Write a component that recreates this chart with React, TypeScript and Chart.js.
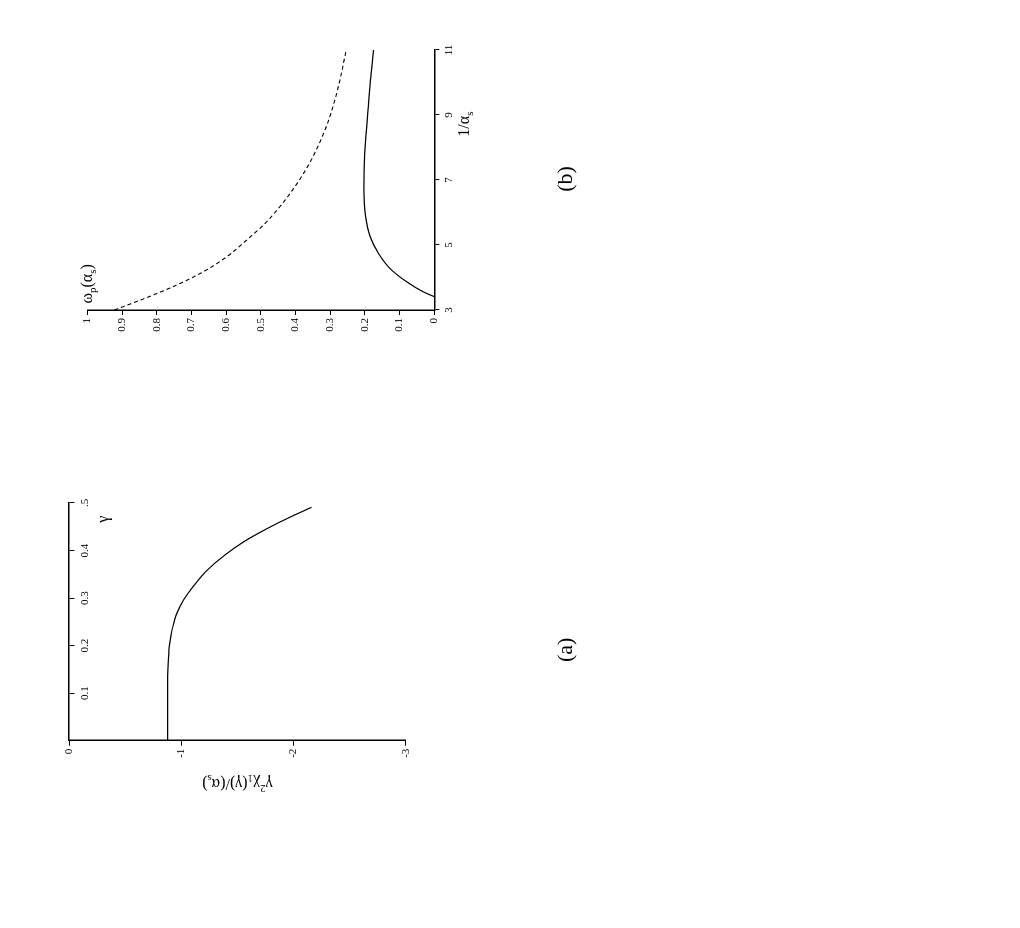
import React, { useEffect, useRef } from 'react';
import { Chart, registerables } from 'chart.js';

Chart.register(...registerables);

const FONT = '"Liberation Serif", "Times New Roman", "DejaVu Serif", serif';

// ---------- Panel (a) data ----------
const gammaA = [0, 0.05, 0.1, 0.135, 0.16, 0.191, 0.21, 0.233, 0.25, 0.268, 0.296, 0.324, 0.355, 0.391, 0.419, 0.445, 0.47, 0.491];
const chiA = [-0.878, -0.878, -0.878, -0.879, -0.882, -0.89, -0.9, -0.917, -0.936, -0.961, -1.02, -1.105, -1.215, -1.39, -1.56, -1.755, -1.965, -2.16];
const gammaTicks = [0.1, 0.2, 0.3, 0.4, 0.5];
const gammaTickLabels = ['0.1', '0.2', '0.3', '0.4', '.5'];
const chiTicks = [0, -1, -2, -3];
const chiTickLabels = ['0', '-1', '-2', '-3'];

// ---------- Panel (b) data ----------
const invAlphaSolid = [3.41, 3.56, 3.87, 4.28, 4.74, 5.26, 5.87, 6.69, 7.31, 8.23, 9.26, 10.18, 11];
const omegaSolid = [0, 0.032, 0.08, 0.128, 0.161, 0.185, 0.198, 0.203, 0.202, 0.198, 0.19, 0.183, 0.175];
const invAlphaDashed = [3, 3.41, 3.77, 4.18, 4.64, 5.15, 5.51, 5.67, 6.18, 6.9, 7.51, 8.23, 9.05, 10.08, 11];
const omegaDashed = [0.922, 0.822, 0.742, 0.665, 0.598, 0.541, 0.503, 0.487, 0.445, 0.395, 0.36, 0.327, 0.298, 0.272, 0.254];
const invAlphaTicks = [3, 5, 7, 9, 11];
const invAlphaTickLabels = ['3', '5', '7', '9', '11'];
const omegaTicks = [0, 0.1, 0.2, 0.3, 0.4, 0.5, 0.6, 0.7, 0.8, 0.9, 1];
const omegaTickLabels = ['0', '0.1', '0.2', '0.3', '0.4', '0.5', '0.6', '0.7', '0.8', '0.9', '1'];

// ---------- text labels ----------
type Part = { t: string; sub?: boolean; sup?: boolean };
const labelGamma: Part[] = [{ t: 'γ' }];
const labelChi: Part[] = [{ t: 'γ' }, { t: '2', sup: true }, { t: 'χ' }, { t: '1', sub: true }, { t: '(γ)/(α' }, { t: 's', sub: true }, { t: ')' }];
const labelOmega: Part[] = [{ t: 'ω' }, { t: 'p', sub: true }, { t: '(α' }, { t: 's', sub: true }, { t: ')' }];
const labelInvAlpha: Part[] = [{ t: '1/α' }, { t: 's', sub: true }];
const labelA: Part[] = [{ t: '(a)' }];
const labelB: Part[] = [{ t: '(b)' }];

type Item = { parts: Part[]; x: number; y: number; size: number; align: 'left' | 'center' | 'right'; rotate?: number };

function drawRich(ctx: CanvasRenderingContext2D, it: Item, px: number, py: number) {
  const main = `${it.size}px ${FONT}`;
  const smallSize = Math.round(it.size * 0.7);
  const small = `${smallSize}px ${FONT}`;
  ctx.save();
  ctx.translate(px, py);
  if (it.rotate) ctx.rotate(it.rotate);
  ctx.fillStyle = '#000';
  ctx.textAlign = 'left';
  ctx.textBaseline = 'alphabetic';
  let total = 0;
  const widths = it.parts.map((p) => {
    ctx.font = p.sub || p.sup ? small : main;
    const w = ctx.measureText(p.t).width;
    total += w;
    return w;
  });
  let cx = it.align === 'center' ? -total / 2 : it.align === 'right' ? -total : 0;
  const base = it.size * 0.32;
  it.parts.forEach((p, i) => {
    ctx.font = p.sub || p.sup ? small : main;
    const dy = p.sub ? it.size * 0.25 : p.sup ? -it.size * 0.38 : 0;
    ctx.fillText(p.t, cx, base + dy);
    cx += widths[i];
  });
  ctx.restore();
}

const richLabelPlugin = {
  id: 'richLabels',
  afterDraw(chart: any, _args: any, opts: any) {
    const items: Item[] = (opts && opts.items) || [];
    const { ctx, scales } = chart;
    items.forEach((it) => {
      const px = scales.x.getPixelForValue(it.x);
      const py = scales.y.getPixelForValue(it.y);
      drawRich(ctx, it, px, py);
    });
  },
};

const tickFont = { family: FONT, size: 11 };

function axis(opts: any) {
  return {
    type: 'linear',
    grid: { drawOnChartArea: false, drawTicks: true, tickLength: 5, color: '#000', lineWidth: 1 },
    border: { display: true, color: '#000', width: 1.5 },
    ticks: { color: '#000', font: tickFont, maxRotation: 0, autoSkip: false, padding: 3 },
    ...opts,
  };
}

function makeTicks(values: number[]) {
  return (s: any) => {
    s.ticks = values.map((value) => ({ value }));
  };
}

export default function App() {
  const refA = useRef<HTMLCanvasElement | null>(null);
  const refB = useRef<HTMLCanvasElement | null>(null);

  useEffect(() => {
    if (!refA.current || !refB.current) return;

    const chartA = new Chart(refA.current, {
      type: 'scatter',
      data: {
        datasets: [
          {
            data: gammaA.map((g, i) => ({ x: g, y: chiA[i] })),
            showLine: true,
            borderColor: '#000',
            borderWidth: 1.2,
            pointRadius: 0,
            fill: false,
            cubicInterpolationMode: 'monotone',
          } as any,
        ],
      },
      options: {
        animation: false,
        responsive: false,
        devicePixelRatio: 1,
        events: [],
        layout: { padding: { left: 0, top: 49, right: 35, bottom: 214.1 } },
        plugins: {
          legend: { display: false },
          tooltip: { enabled: false },
          richLabels: {
            items: [
              { parts: labelGamma, x: 0.466, y: -0.3, size: 16, align: 'center' },
              { parts: labelChi, x: -0.091, y: -1.5, size: 16, align: 'center', rotate: -Math.PI / 2 },
              { parts: labelA, x: 0.191, y: -4.417, size: 22, align: 'center' },
            ],
          },
        } as any,
        scales: {
          x: axis({
            min: 0,
            max: 0.5,
            position: { y: 0 },
            ticks: { color: '#000', font: tickFont, maxRotation: 0, autoSkip: false, padding: 5, callback: (_v: any, i: number) => gammaTickLabels[i] },
            afterBuildTicks: makeTicks(gammaTicks),
          }),
          y: axis({
            min: -3,
            max: 0,
            position: 'left',
            ticks: { color: '#000', font: tickFont, maxRotation: 0, autoSkip: false, padding: 3, callback: (_v: any, i: number) => chiTickLabels[i] },
            afterBuildTicks: makeTicks(chiTicks),
            afterFit: (s: any) => {
              s.width = 127.3;
            },
          }),
        } as any,
      },
      plugins: [richLabelPlugin],
    });

    const chartB = new Chart(refB.current, {
      type: 'scatter',
      data: {
        datasets: [
          {
            data: invAlphaSolid.map((v, i) => ({ x: v, y: omegaSolid[i] })),
            showLine: true,
            borderColor: '#000',
            borderWidth: 1.2,
            pointRadius: 0,
            fill: false,
            cubicInterpolationMode: 'monotone',
          } as any,
          {
            data: invAlphaDashed.map((v, i) => ({ x: v, y: omegaDashed[i] })),
            showLine: true,
            borderColor: '#000',
            borderWidth: 1.1,
            borderDash: [4, 3],
            pointRadius: 0,
            fill: false,
            cubicInterpolationMode: 'monotone',
          } as any,
        ],
      },
      options: {
        animation: false,
        responsive: false,
        devicePixelRatio: 1,
        events: [],
        layout: { padding: { left: 0, top: 67.3, right: 42, bottom: 0 } },
        plugins: {
          legend: { display: false },
          tooltip: { enabled: false },
          richLabels: {
            items: [
              { parts: labelOmega, x: 3.2, y: 1.0, size: 16, align: 'left' },
              { parts: labelInvAlpha, x: 8.72, y: -0.086, size: 16, align: 'center' },
              { parts: labelB, x: 7.03, y: -0.377, size: 22, align: 'center' },
            ],
          },
        } as any,
        scales: {
          x: axis({
            min: 3,
            max: 11,
            position: 'bottom',
            ticks: { color: '#000', font: tickFont, maxRotation: 0, autoSkip: false, padding: 3, callback: (_v: any, i: number) => invAlphaTickLabels[i] },
            afterBuildTicks: makeTicks(invAlphaTicks),
            afterFit: (s: any) => {
              s.height = 185.7;
            },
          }),
          y: axis({
            min: 0,
            max: 1,
            position: 'left',
            ticks: { color: '#000', font: tickFont, maxRotation: 0, autoSkip: false, padding: 3, callback: (_v: any, i: number) => omegaTickLabels[i] },
            afterBuildTicks: makeTicks(omegaTicks),
            afterFit: (s: any) => {
              s.width = 98;
            },
          }),
        } as any,
      },
      plugins: [richLabelPlugin],
    });

    return () => {
      chartA.destroy();
      chartB.destroy();
    };
  }, []);

  return (
    <div
      style={{
        position: 'fixed',
        left: 0,
        top: 0,
        width: 928,
        height: 1020,
        transformOrigin: '0 0',
        transform: 'translate(0px, 928px) rotate(-90deg)',
        background: '#fff',
      }}
    >
      <canvas ref={refA} width={400} height={600} style={{ position: 'absolute', left: 60, top: 20, width: 400, height: 600 }} />
      <canvas ref={refB} width={400} height={600} style={{ position: 'absolute', left: 520, top: 20, width: 400, height: 600 }} />
    </div>
  );
}
